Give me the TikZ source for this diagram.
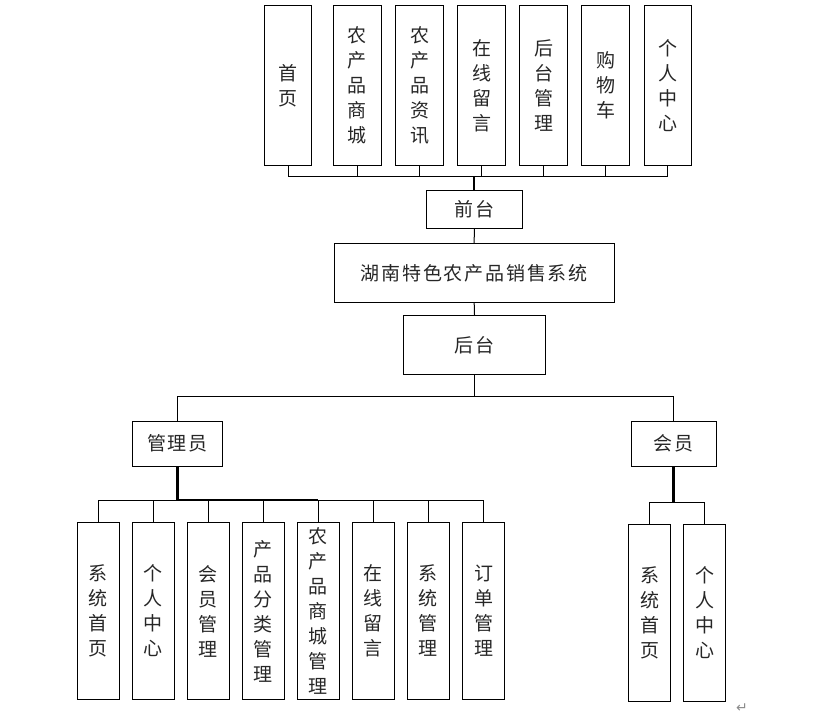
\documentclass[tikz,border=0pt]{standalone}
\usepackage{fontspec}
\newfontfamily\cjk{Noto Sans CJK SC}
\newfontfamily\symfont{DejaVu Sans}
\begin{document}
\begin{tikzpicture}[x=1pt,y=-1pt,
  box/.style={draw, line width=1pt, inner sep=0pt, align=center, text=black!85,
    font=\cjk\fontsize{19}{25}\selectfont},
  tbox/.style={box, minimum width=47.6pt, minimum height=159.3pt},
  bbox/.style={box, minimum width=42pt, minimum height=176.6pt},
  conn/.style={line width=1pt},
  bold/.style={line width=2.2pt}]
\def\g{\hspace{1.8pt}}
\useasboundingbox (0,0) rectangle (827,716);
% top level
\node[tbox] (t1) at (288,85.35) {首\\页};
\node[tbox] (t2) at (357.2,85.35) {农\\产\\品\\商\\城};
\node[tbox] (t3) at (419.5,85.35) {农\\产\\品\\资\\讯};
\node[tbox] (t4) at (481.5,85.35) {在\\线\\留\\言};
\node[tbox] (t5) at (543.5,85.35) {后\\台\\管\\理};
\node[tbox] (t6) at (605.5,85.35) {购\\物\\车};
\node[tbox] (t7) at (667.8,85.35) {个\\人\\中\\心};
\node[box, minimum width=96pt, minimum height=37.6pt] (qt) at (474.3,209.5) {前\g 台};
\node[box, minimum width=280.3pt, minimum height=58.7pt] (sys) at (474.2,273.3) {湖\g 南\g 特\g 色\g 农\g 产\g 品\g 销\g 售\g 系\g 统};
\node[box, minimum width=142.4pt, minimum height=59pt] (ht) at (474.5,344.8) {后\g 台};
\node[box, minimum width=89.6pt, minimum height=45pt] (gly) at (177.5,443.5) {管\g 理\g 员};
\node[box, minimum width=85pt, minimum height=45pt] (hy) at (673.5,443.5) {会\g 员};
% admin children
\node[bbox] (b1) at (98.3,611) {系\\统\\首\\页};
\node[bbox] (b2) at (153.3,611) {个\\人\\中\\心};
\node[bbox] (b3) at (208.3,611) {会\\员\\管\\理};
\node[bbox] (b4) at (263.3,611) {产\\品\\分\\类\\管\\理};
\node[bbox] (b5) at (318.3,611) {农\\产\\品\\商\\城\\管\\理};
\node[bbox] (b6) at (373.3,611) {在\\线\\留\\言};
\node[bbox] (b7) at (428.3,611) {系\\统\\管\\理};
\node[bbox] (b8) at (483.5,611) {订\\单\\管\\理};
% member children
\node[bbox, minimum height=177.4pt] (m1) at (649.5,613) {系\\统\\首\\页};
\node[bbox, minimum height=177.4pt] (m2) at (704.7,613) {个\\人\\中\\心};
% paragraph mark
\node[text=black!45, font=\symfont\fontsize{14}{14}\selectfont, inner sep=0pt] (pm) at (742,708) {↵};
% connectors: top bus
\coordinate (tb) at (474.3,176.7);
\draw[conn] (t1.south) |- (tb) -| (t7.south);
\foreach \n in {t2,t3,t4,t5,t6} \draw[conn] (\n.south) -- (\n.south |- tb);
\draw[bold] (tb) -- (qt.north);
\draw[conn] (qt.south) -- (sys.north);
\draw[conn] (sys.south) -- (ht.north);
% back end split
\coordinate (hb) at (474.5,396);
\draw[conn] (ht.south) -- (hb);
\draw[conn] (gly.north) |- (hb) -| (hy.north);
% admin bus
\coordinate (ab) at (177.5,500.3);
\draw[conn] (b1.north) |- (ab) -| (b8.north);
\foreach \n in {b2,b3,b4,b5,b6,b7} \draw[conn] (\n.north) -- (\n.north |- ab);
\draw[bold] (gly.south) -- (ab) -- (b5.north |- ab);
% member bus
\coordinate (mb) at (673.5,502.3);
\draw[conn] (m1.north) |- (mb) -| (m2.north);
\draw[bold] (hy.south) -- (mb);
\end{tikzpicture}
\end{document}
